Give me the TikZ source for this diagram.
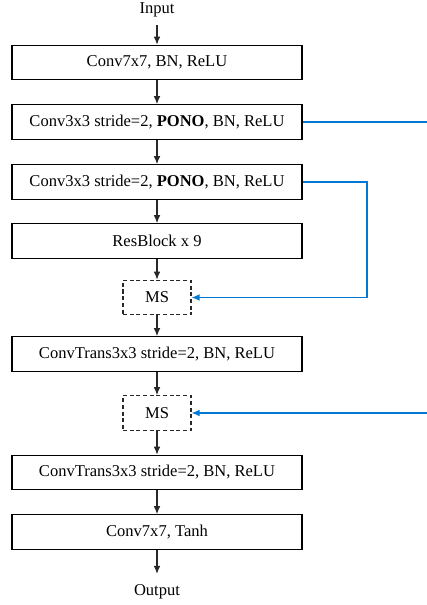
\documentclass[tikz,border=0pt]{standalone}
\usepackage{fontspec}
\setmainfont{Liberation Serif}
\usetikzlibrary{arrows.meta,positioning}
\definecolor{skipblue}{RGB}{0,120,212}
\definecolor{linegray}{RGB}{40,40,40}

\begin{document}
\begin{tikzpicture}[x=0.75pt, y=-0.75pt, every node/.style={font=\fontsize{12.4}{14}\selectfont}]
    % Стилі
    \tikzset{
        layer/.style={draw, line width=0.8pt, minimum width=217.5pt, minimum height=26pt, inner sep=0pt},
        msbox/.style={draw=linegray, dashed, dash pattern=on 3pt off 2pt, line width=0.8pt, minimum width=51pt, minimum height=26pt, inner sep=0pt},
        flow/.style={linegray, line width=0.8pt, -{Latex[length=6pt,width=5pt]}},
        skip/.style={skipblue, line width=0.9pt},
        skiparr/.style={skip, -{Latex[length=6pt,width=5pt]}}
    }
    \useasboundingbox (0,0) rectangle (427,605);

    % Вхід
    \node[inner sep=6pt] (in) at (157,10) {Input};

    % Кодер
    \node[layer] (b1) at (157,62.5) {Conv7x7, BN, ReLU};
    \node[layer] (b2) at (157,122) {Conv3x3 stride=2, \textbf{PONO}, BN, ReLU};
    \node[layer] (b3) at (157,182) {Conv3x3 stride=2, \textbf{PONO}, BN, ReLU};
    \node[layer] (res) at (157,241) {ResBlock x 9};

    % Декодер
    \node[msbox] (ms1) at (157,297.5) {MS};
    \node[layer] (ct1) at (157,354) {ConvTrans3x3 stride=2, BN, ReLU};
    \node[msbox] (ms2) at (157,413) {MS};
    \node[layer] (ct2) at (157,472.5) {ConvTrans3x3 stride=2, BN, ReLU};
    \node[layer] (tanh) at (157,532) {Conv7x7, Tanh};

    % Вихід
    \node[inner sep=8pt] (out) at (157,592) {Output};

    % Потік
    \draw[flow] (in) -- (b1);
    \draw[flow] (b1) -- (b2);
    \draw[flow] (b2) -- (b3);
    \draw[flow] (b3) -- (res);
    \draw[flow] (res) -- (ms1);
    \draw[flow] (ms1) -- (ct1);
    \draw[flow] (ct1) -- (ms2);
    \draw[flow] (ms2) -- (ct2);
    \draw[flow] (ct2) -- (tanh);
    \draw[flow] (tanh) -- (out);

    % Обхідні зв'язки
    \coordinate (e2) at (427,122);
    \coordinate (e3) at (367,182);
    \coordinate (e4) at (427,413);
    \draw[skip] (b2.east) -- (e2);
    \draw[skiparr] (b3.east) -- (e3) |- (ms1.east);
    \draw[skiparr] (e4) -- (ms2.east);
\end{tikzpicture}
\end{document}
